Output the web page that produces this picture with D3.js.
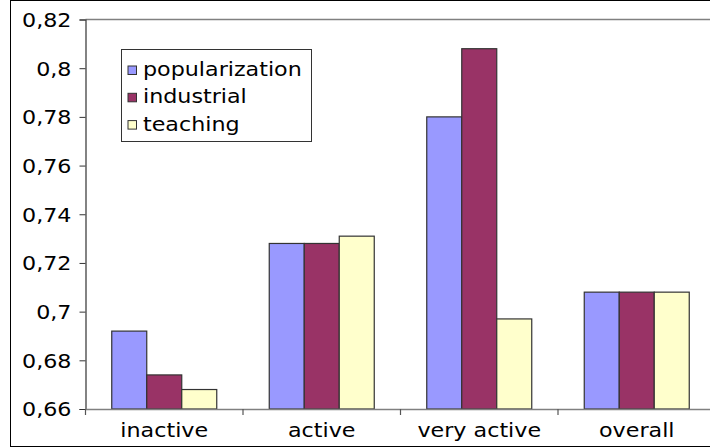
<!DOCTYPE html>
<html>
<head>
<meta charset="utf-8">
<script src="https://cdn.jsdelivr.net/npm/d3@7"></script>
<style>
  html, body { margin: 0; padding: 0; background: #fff; }
  svg { display: block; }
  text { font-family: "DejaVu Sans", sans-serif; fill: #000; }
</style>
</head>
<body>
<svg id="chart" width="710" height="448"></svg>
<script>
const categories = ["inactive", "active", "very active", "overall"];
const seriesNames = ["popularization", "industrial", "teaching"];
const popularization = [0.692, 0.728, 0.780, 0.708];
const industrial     = [0.674, 0.728, 0.808, 0.708];
const teaching       = [0.668, 0.731, 0.697, 0.708];
const seriesColors = ["#9999ff", "#993366", "#ffffcc"];
const yTickValues = [0.66, 0.68, 0.70, 0.72, 0.74, 0.76, 0.78, 0.80, 0.82];
const yTickLabels = ["0,66", "0,68", "0,7", "0,72", "0,74", "0,76", "0,78", "0,8", "0,82"];

const seriesValues = [popularization, industrial, teaching];
const FS = 19, SX = 1.17;

const svg = d3.select("#chart");
const pLeft = 85.5, pRight = 715.5, pTop = 19.5, pBottom = 409;

const x0 = d3.scaleBand().domain(categories).range([pLeft, pRight]).padding(0);
const bw = x0.bandwidth();
const x1 = d3.scaleBand().domain(seriesNames).range([bw / 6, bw * 5 / 6]).padding(0);
const y = d3.scaleLinear().domain([0.66, 0.82]).range([pBottom, pTop]);

// outer border
svg.append("rect").attr("x", 10.5).attr("y", 0.5).attr("width", 720).attr("height", 446)
  .attr("fill", "#fff").attr("stroke", "#000").attr("stroke-width", 1);

// plot top border
svg.append("line").attr("x1", pLeft).attr("x2", pRight).attr("y1", pTop).attr("y2", pTop)
  .attr("stroke", "#808080").attr("stroke-width", 1.3);

// bars
const groups = svg.append("g").selectAll("g").data(categories).join("g")
  .attr("transform", d => `translate(${x0(d)},0)`);
groups.selectAll("rect")
  .data((c, ci) => seriesNames.map((s, si) => ({ s, si, v: seriesValues[si][ci] })))
  .join("rect")
  .attr("x", d => x1(d.s))
  .attr("y", d => y(d.v))
  .attr("width", x1.bandwidth())
  .attr("height", d => y(0.66) - y(d.v))
  .attr("fill", d => seriesColors[d.si])
  .attr("stroke", "#333")
  .attr("stroke-width", 1.2);

// y axis
const yAxis = d3.axisLeft(y).tickValues(yTickValues)
  .tickFormat((d, i) => yTickLabels[i]).tickSize(6).tickPadding(8);
const yg = svg.append("g").attr("transform", `translate(${pLeft},0)`).call(yAxis);
yg.select(".domain").attr("stroke", "#333").attr("stroke-width", 1.2);
yg.selectAll(".tick line").attr("stroke", "#333");
yg.selectAll(".tick text").each(function () {
  const t = d3.select(this);
  t.attr("font-size", FS).attr("text-anchor", "end").attr("dy", "0.36em")
   .attr("transform", `translate(-14,0) scale(${SX},1)`).attr("x", 0);
});

// x axis
const xAxis = d3.axisBottom(x0).tickSize(0).tickSizeOuter(0).tickPadding(0);
const xg = svg.append("g").attr("transform", `translate(0,${pBottom})`).call(xAxis);
xg.select(".domain").attr("stroke", "#808080").attr("stroke-width", 1.3);
xg.selectAll(".tick text").attr("font-size", FS).attr("dy", 0).attr("y", 0)
  .attr("transform", `translate(0,27.5) scale(${SX},1)`);
// boundary ticks between categories
const bounds = categories.map(c => x0(c)).concat([pRight]);
xg.selectAll("line.bnd").data(bounds).join("line").attr("class", "bnd")
  .attr("x1", d => d).attr("x2", d => d).attr("y1", 0).attr("y2", 6)
  .attr("stroke", "#555").attr("stroke-width", 1.2);

// legend
const lg = svg.append("g");
lg.append("rect").attr("x", 121.5).attr("y", 49.5).attr("width", 190).attr("height", 92)
  .attr("fill", "#fff").attr("stroke", "#333").attr("stroke-width", 1);
const items = lg.selectAll("g.item").data(seriesNames).join("g").attr("class", "item")
  .attr("transform", (d, i) => `translate(0,${76 + i * 27.3})`);
items.append("rect").attr("x", 128).attr("y", -10).attr("width", 8.5).attr("height", 8.5)
  .attr("fill", (d, i) => seriesColors[i]).attr("stroke", "#333").attr("stroke-width", 1);
items.append("text").attr("font-size", FS)
  .attr("transform", `translate(143,0) scale(${SX},1)`).text(d => d);
</script>
</body>
</html>
